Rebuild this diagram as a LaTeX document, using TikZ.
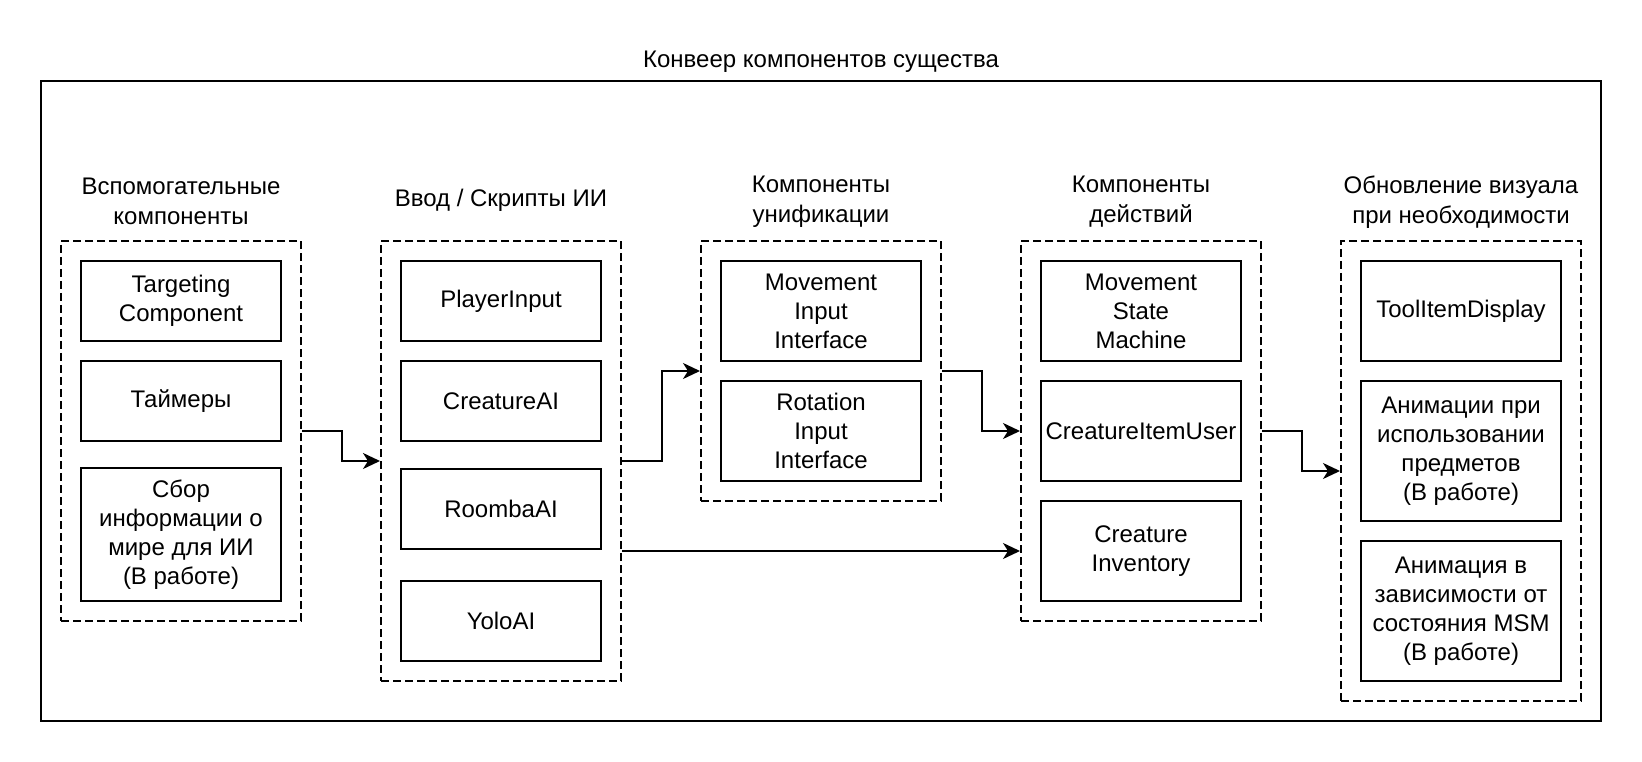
\documentclass[tikz,border=0pt]{standalone}
\usepackage{fontspec}
\setmainfont{Liberation Sans}
\usetikzlibrary{arrows.meta}
\begin{document}
\begin{tikzpicture}[x=1pt,y=-1pt,
  every node/.style={font=\fontsize{24}{29}\selectfont, align=center, inner sep=0pt},
  gtitle/.style={font=\fontsize{24}{30}\selectfont},
  outer/.style={draw, line width=2pt, minimum width=1560pt, minimum height=640pt},
  grp/.style={draw, dashed, dash pattern=on 8pt off 4pt, line width=2pt, minimum width=240pt},
  cbox/.style={draw, line width=2pt, minimum width=200pt},
  arr/.style={line width=2pt, -{Stealth[length=17pt,width=16pt,inset=5pt]}}
]
\useasboundingbox (0,0) rectangle (1642,762);
\fill[white] (0,0) rectangle (1642,762);

\node[anchor=base] (title) at (821,67.7) {Конвеер компонентов существа};
\node[outer] (outer) at (821,401) {};

% groups
\node[grp, minimum height=380pt] (g1) at (181,431) {};
\node[grp, minimum height=440pt] (g2) at (501,461) {};
\node[grp, minimum height=260pt] (g3) at (821,371) {};
\node[grp, minimum height=380pt] (g4) at (1141,431) {};
\node[grp, minimum height=460pt] (g5) at (1461,471) {};

% group titles
\node[gtitle] (t1) at (181,201.7) {Вспомогательные\\компоненты};
\node[gtitle] (t2) at (501,200.7) {Ввод / Скрипты ИИ};
\node[gtitle] (t3) at (821,201.7) {Компоненты\\унификации};
\node[gtitle] (t4) at (1141,201.7) {Компоненты\\действий};
\node[gtitle] (t5) at (1461,201.7) {Обновление визуала\\при необходимости};

% group 1
\node[cbox, minimum height=80pt] (tc) at (181,301) {Targeting\\Component};
\node[cbox, minimum height=80pt] (tm) at (181,401) {Таймеры};
\node[cbox, minimum height=133pt] (sb) at (181,534.2) {Сбор\\информации о\\мире для ИИ\\(В работе)};

% group 2
\node[cbox, minimum height=80pt] (pi) at (501,301) {PlayerInput};
\node[cbox, minimum height=80pt] (ca) at (501,401) {CreatureAI};
\node[cbox, minimum height=80pt] (ra) at (501,509) {RoombaAI};
\node[cbox, minimum height=80pt] (ya) at (501,621) {YoloAI};

% group 3
\node[cbox, minimum height=100pt] (mii) at (821,311) {Movement\\Input\\Interface};
\node[cbox, minimum height=100pt] (rii) at (821,431) {Rotation\\Input\\Interface};

% group 4
\node[cbox, minimum height=100pt] (msm) at (1141,311) {Movement\\State\\Machine};
\node[cbox, minimum height=100pt] (ciu) at (1141,431) {CreatureItemUser};
\node[cbox, minimum height=100pt] (ci) at (1141,551) {Creature\\Inventory};

% group 5
\node[cbox, minimum height=100pt] (tid) at (1461,311) {ToolItemDisplay};
\node[cbox, minimum height=140pt] (a1) at (1461,451) {Анимации при\\использовании\\предметов\\(В работе)};
\node[cbox, minimum height=140pt] (a2) at (1461,611) {Анимация в\\зависимости от\\состояния MSM\\(В работе)};

% connectors
\draw[arr] (g1.east) -- ++(40,0) |- (g2.west);
\draw[arr] (g2.east) -- ++(40,0) |- (g3.west);
\draw[arr] (g2.east |- ci) -- (g4.west |- ci);
\draw[arr] (g3.east) -- ++(40,0) |- (g4.west);
\draw[arr] (g4.east) -- ++(40,0) |- (g5.west);
\end{tikzpicture}
\end{document}
